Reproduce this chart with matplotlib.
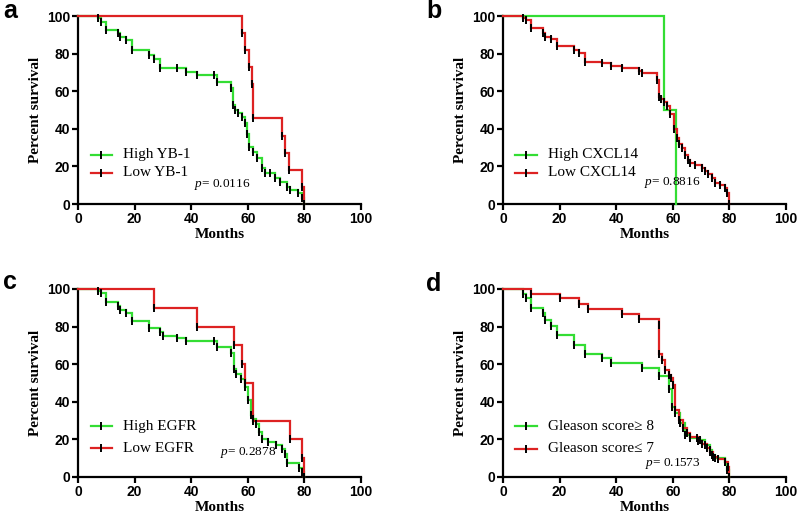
import matplotlib
matplotlib.use("Agg")
import matplotlib.pyplot as plt

plt.rcParams['mathtext.fontset'] = 'custom'
plt.rcParams['mathtext.rm'] = 'Liberation Serif'
plt.rcParams['mathtext.it'] = 'Liberation Serif:italic'

GREEN = '#33dd33'
RED = '#dd2222'

# ---------------- data ----------------
panel_letters = ['a', 'b', 'c', 'd']
x_ticks = [0, 20, 40, 60, 80, 100]
y_ticks = [0, 20, 40, 60, 80, 100]

# Panel a
a_labels = ['High YB-1', 'Low YB-1']
a_p = '0.0116'
a_hi_t = [7, 8, 10, 14, 15, 17, 19, 25, 27, 29, 35, 38, 42, 48, 49, 54, 54.7, 55.5, 56.6, 57.8, 59, 59.6,
          60.4, 62, 63.4, 64.9, 66.1, 68, 69.6, 71.4, 73.7, 75, 77.9, 79, 80]
a_hi_s = [99, 97, 92.5, 91, 89, 87, 82, 79.5, 77, 72.5, 72.5, 70, 68.5, 68.5, 65, 61.5, 52.5, 50, 48.5, 46.5, 43, 37,
          30.5, 27.8, 24.3, 19, 16.3, 16.3, 13.6, 11.9, 9.2, 7.4, 5.7, 3, 0]
a_lo_t = [58, 59, 60.5, 61.5, 62, 72, 73.2, 74.7, 79, 80]
a_lo_s = [90.9, 81.8, 72.7, 63.6, 45.5, 36.4, 27.3, 18.2, 9.1, 0]

# Panel b
b_labels = ['High CXCL14', 'Low CXCL14']
b_p = '0.8816'
b_hi_t = [57, 61]
b_hi_s = [50, 0]
b_lo_t = [7, 8, 10, 14, 15, 17, 19, 25, 27, 29, 35, 38, 42, 48, 49, 54.5, 55, 56, 57, 58, 59, 60.5, 61.4, 62.3,
          63.1, 64.3, 65.5, 66, 67.8, 70.2, 71.4, 72.6, 73.7, 74.9, 76.7, 78.5, 79.3, 80]
b_lo_s = [99, 97.9, 93.4, 90.8, 89, 87.6, 84, 81.9, 80.1, 75.7, 74.8, 73.6, 72.2, 71, 69.5, 66.2, 57, 56, 54.5, 52,
          48, 40, 35, 32, 29.6, 26, 23.4, 21.6, 20.7, 19, 17.7, 16, 13.7, 11, 10, 8.3, 5.7, 0]

# Panel c
c_labels = ['High EGFR', 'Low EGFR']
c_p = '0.2878'
c_hi_t = [7, 8, 10, 14, 15, 17, 19, 25, 29, 30, 35, 38, 48, 49, 54, 55, 56, 57.5, 59, 60, 61, 62, 63, 64, 65,
          67, 70, 72, 73, 74, 78, 79, 80]
c_hi_s = [99, 97.9, 92.9, 90.8, 89, 87.2, 82.8, 79.3, 77, 74.8, 73.9, 72.2, 72.2, 69, 66, 57.5, 55, 52, 48, 41, 33,
          31, 28, 24, 20, 18.5, 17, 15, 12, 7.5, 5, 2.5, 0]
c_lo_t = [27, 42, 55, 58, 59, 62, 75, 79, 80]
c_lo_s = [90, 80, 70, 60, 50, 30, 20, 10, 0]

# Panel d
d_labels = ['Gleason score\u2265 8', 'Gleason score\u2264 7']
d_p = '0.1573'
d_hi_t = [7, 8, 10, 14, 15, 17, 19, 25, 29, 35, 38, 49, 55, 58.8, 59.6, 60.8, 62.6, 64.3, 66, 68.4, 69.6, 71.4,
          73.2, 73.7, 75, 78.5, 79.3, 80]
d_hi_s = [97.5, 95, 90, 87, 83.3, 80.5, 75.5, 70.4, 65.5, 63.3, 60.5, 57.8, 53.5, 47, 37.5, 34, 28.5, 22.3, 20.6,
          20.6, 19.7, 17, 14.4, 11.7, 10, 8.2, 3.7, 0]
d_lo_t = [10, 20, 27, 30, 42, 48, 55, 55.3, 56.1, 57.3, 58.5, 59.3, 60, 60.8, 62.3, 63.5, 64.9, 66, 69, 70.2, 72,
          73.2, 74.3, 76.1, 78.5, 79.6, 80]
d_lo_s = [97.5, 95, 92.2, 89.2, 86.5, 83.9, 80.6, 65.2, 62.1, 56.8, 54.1, 52.4, 48.8, 35.5, 30.3, 25.9, 23.2, 21.5,
          19.3, 17.6, 15.2, 13.5, 10.8, 9.4, 8.2, 5.5, 0]

# ---------------- layout ----------------
W, H = 800, 525
fig = plt.figure(figsize=(8, 5.25), dpi=100)

def axes_px(left, top, right, bottom):
    return fig.add_axes([left / W, 1 - bottom / H, (right - left) / W, (bottom - top) / H])

panels = [
    dict(box=(78, 16, 361, 204), letter_xy=(3, 18), data=(a_hi_t, a_hi_s, a_lo_t, a_lo_s), labels=a_labels,
         p=a_p, p_xy=(0.41, 0.106), leg=(0.046, 0.12, 0.159, 0.261, 0.165), hi_ticks=True),
    dict(box=(503, 16, 786, 204), letter_xy=(426, 18), data=(b_hi_t, b_hi_s, b_lo_t, b_lo_s), labels=b_labels,
         p=b_p, p_xy=(0.498, 0.117), leg=(0.042, 0.12, 0.159, 0.261, 0.165), hi_ticks=False),
    dict(box=(78, 289, 361, 477), letter_xy=(3, 289), data=(c_hi_t, c_hi_s, c_lo_t, c_lo_s), labels=c_labels,
         p=c_p, p_xy=(0.502, 0.128), leg=(0.046, 0.12, 0.159, 0.271, 0.154), hi_ticks=True),
    dict(box=(503, 289, 786, 477), letter_xy=(426, 291), data=(d_hi_t, d_hi_s, d_lo_t, d_lo_s), labels=d_labels,
         p=d_p, p_xy=(0.502, 0.074), leg=(0.042, 0.12, 0.159, 0.271, 0.149), hi_ticks=True),
]

label_font = dict(family='Liberation Serif', weight='bold', size=11)

for letter, pnl in zip(panel_letters, panels):
    ax = axes_px(*pnl['box'])
    hi_t, hi_s, lo_t, lo_s = pnl['data']
    for t, s, col, show_ticks in ((hi_t, hi_s, GREEN, pnl['hi_ticks']), (lo_t, lo_s, RED, True)):
        ax.step([0] + t, [100] + s, where='post', color=col, lw=1.6, solid_joinstyle='miter', clip_on=False,
                zorder=3)
        if show_ticks:
            ax.plot(t, s, linestyle='none', marker='|', color='black', ms=5.5, mew=1.4, clip_on=False, zorder=4)

    ax.set_xlim(0, 100)
    ax.set_ylim(0, 100)
    ax.set_xticks(x_ticks)
    ax.set_yticks(y_ticks)
    for sp in ('top', 'right'):
        ax.spines[sp].set_visible(False)
    for sp in ('left', 'bottom'):
        ax.spines[sp].set_linewidth(1.6)
    ax.tick_params(direction='out', length=4, width=1.6, pad=1.5)
    for lab in ax.get_xticklabels() + ax.get_yticklabels():
        lab.set_fontfamily('Liberation Sans')
        lab.set_fontweight('bold')
        lab.set_fontsize(10)
    ax.set_xlabel('Months', fontdict=label_font, labelpad=2)
    ax.set_ylabel('Percent survival', fontdict=label_font, labelpad=4)

    # legend drawn by hand
    x0, x1, xt, y1, y2 = pnl['leg']
    for yy, col, txt in ((y1, GREEN, pnl['labels'][0]), (y2, RED, pnl['labels'][1])):
        ax.plot([x0, x1], [yy, yy], transform=ax.transAxes, color=col, lw=1.6, clip_on=False)
        ax.plot([(x0 + x1) / 2], [yy], transform=ax.transAxes, marker='|', color='black', ms=5.5, mew=1.4,
                clip_on=False)
        ax.text(xt, yy, txt, transform=ax.transAxes, ha='left', va='center', family='Liberation Serif',
                size=11)

    ax.text(pnl['p_xy'][0], pnl['p_xy'][1], r'$p$= ' + pnl['p'], transform=ax.transAxes, ha='left',
            va='center', family='Liberation Serif', size=9.5)

    lx, ly = pnl['letter_xy']
    fig.text(lx / W, 1 - ly / H, letter, ha='left', va='baseline', family='Liberation Sans', weight='bold',
             size=18)

fig.savefig('out.png', dpi=100)
